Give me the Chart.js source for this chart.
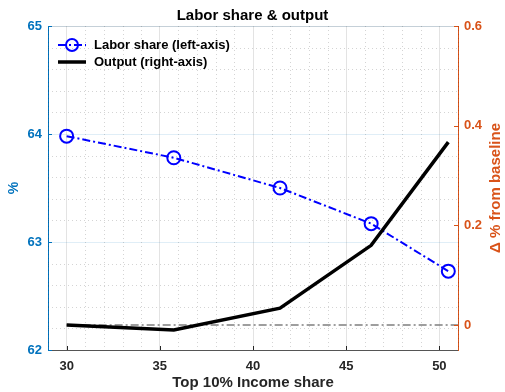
<!DOCTYPE html>
<html>
<head>
<meta charset="utf-8">
<script src="https://cdn.jsdelivr.net/npm/chart.js@4"></script>
<style>
  html, body { margin: 0; background: #fff; }
  #wrap { width: 505px; height: 392px; }
</style>
</head>
<body>
<div id="wrap"><canvas id="grafico"></canvas></div>
<script>
// data
const incomeShare = [30, 35.75, 41.45, 46.34, 50.48];
const laborShare = [63.98, 63.78, 63.5, 63.17, 62.73];
const outputDev = [0.0, -0.01, 0.034, 0.16, 0.367];
const baselineX = [30, 51];
const baselineY = [0, 0];
const xTicks = [30, 35, 40, 45, 50];
const leftTicks = [62, 63, 64, 65];
const rightTicks = [0, 0.2, 0.4, 0.6];

const BLUE = '#0072BD';
const ORANGE = '#D95319';
const DARK = '#262626';
const FONT = '"Liberation Sans", Arial, Helvetica, sans-serif';

// dotted minor grid, inward ticks, box, right title and legend (MATLAB look)
const matlabLook = {
  id: 'matlabLook',
  beforeDatasetsDraw(chart) {
    const { ctx, chartArea: a, scales } = chart;
    const x = scales.x, y = scales.y;
    ctx.save();
    ctx.strokeStyle = 'rgba(38,38,38,0.2)';
    ctx.lineWidth = 1;
    ctx.setLineDash([1, 3]);
    for (let v = 29; v <= 51; v++) {
      if (v % 5 === 0) continue;
      const px = Math.round(x.getPixelForValue(v)) + 0.5;
      ctx.beginPath(); ctx.moveTo(px, a.top); ctx.lineTo(px, a.bottom); ctx.stroke();
    }
    for (let i = 1; i < 15; i++) {
      if (i % 5 === 0) continue;
      const py = Math.round(y.getPixelForValue(62 + i * 0.2)) + 0.5;
      ctx.beginPath(); ctx.moveTo(a.left, py); ctx.lineTo(a.right, py); ctx.stroke();
    }
    ctx.restore();
  },
  afterDraw(chart) {
    const { ctx, chartArea: a, scales } = chart;
    ctx.save();
    // top box line
    ctx.strokeStyle = 'rgba(38,38,38,0.15)';
    ctx.lineWidth = 1;
    ctx.beginPath(); ctx.moveTo(a.left, a.top + 0.5); ctx.lineTo(a.right, a.top + 0.5); ctx.stroke();
    // inward ticks
    ctx.strokeStyle = DARK;
    xTicks.forEach(v => {
      const px = Math.round(scales.x.getPixelForValue(v)) + 0.5;
      ctx.beginPath(); ctx.moveTo(px, a.bottom); ctx.lineTo(px, a.bottom - 4); ctx.stroke();
    });
    ctx.strokeStyle = BLUE;
    leftTicks.forEach(v => {
      const py = Math.round(scales.y.getPixelForValue(v)) + 0.5;
      ctx.beginPath(); ctx.moveTo(a.left, py); ctx.lineTo(a.left + 4, py); ctx.stroke();
    });
    ctx.strokeStyle = ORANGE;
    rightTicks.forEach(v => {
      const py = Math.round(scales.y1.getPixelForValue(v)) + 0.5;
      ctx.beginPath(); ctx.moveTo(a.right, py); ctx.lineTo(a.right - 4, py); ctx.stroke();
    });

    // right axis title, reading bottom to top
    ctx.save();
    ctx.translate(496, (a.top + a.bottom) / 2);
    ctx.rotate(-Math.PI / 2);
    ctx.fillStyle = ORANGE;
    ctx.font = 'bold 15px ' + FONT;
    ctx.textAlign = 'center';
    ctx.textBaseline = 'middle';
    ctx.fillText('Δ % from baseline', 0, 0);
    ctx.restore();

    // legend
    const lx = a.left + 10, ly1 = a.top + 19, ly2 = a.top + 36;
    ctx.strokeStyle = '#0000ff';
    ctx.lineWidth = 2;
    ctx.setLineDash([8, 3, 2, 3]);
    ctx.beginPath(); ctx.moveTo(lx, ly1); ctx.lineTo(lx + 28, ly1); ctx.stroke();
    ctx.setLineDash([]);
    ctx.beginPath(); ctx.arc(lx + 14, ly1, 6, 0, Math.PI * 2); ctx.stroke();
    ctx.strokeStyle = '#000';
    ctx.lineWidth = 3.5;
    ctx.beginPath(); ctx.moveTo(lx, ly2); ctx.lineTo(lx + 28, ly2); ctx.stroke();
    ctx.fillStyle = '#000';
    ctx.font = 'bold 13px ' + FONT;
    ctx.textAlign = 'left';
    ctx.textBaseline = 'middle';
    ctx.fillText('Labor share (left-axis)', lx + 36, ly1);
    ctx.fillText('Output (right-axis)', lx + 36, ly2);
    ctx.restore();
  }
};

const ctx = document.getElementById('grafico').getContext('2d');

new Chart(ctx, {
  type: 'line',
  data: {
    datasets: [
      {
        label: 'Output (right-axis)',
        data: incomeShare.map((v, i) => ({ x: v, y: outputDev[i] })),
        yAxisID: 'y1',
        borderColor: '#000',
        borderWidth: 3.5,
        pointRadius: 0,
        tension: 0
      },
      {
        label: 'Labor share (left-axis)',
        data: incomeShare.map((v, i) => ({ x: v, y: laborShare[i] })),
        yAxisID: 'y',
        borderColor: '#0000ff',
        borderWidth: 2,
        borderDash: [8, 3, 2, 3],
        pointRadius: 6.5,
        pointBorderWidth: 2,
        pointBorderColor: '#0000ff',
        pointBackgroundColor: 'rgba(0,0,0,0)',
        tension: 0
      },
      {
        label: 'baseline',
        data: baselineX.map((v, i) => ({ x: v, y: baselineY[i] })),
        yAxisID: 'y1',
        borderColor: '#7f7f7f',
        borderWidth: 1.5,
        borderDash: [8, 3, 2, 3],
        pointRadius: 0
      }
    ]
  },
  options: {
    responsive: true,
    maintainAspectRatio: false,
    animation: false,
    events: [],
    layout: { padding: 0 },
    plugins: {
      legend: { display: false },
      tooltip: { enabled: false },
      title: {
        display: true,
        text: 'Labor share & output',
        color: '#000',
        font: { family: FONT, size: 15, weight: 'bold' },
        padding: { top: 7, bottom: 1 }
      }
    },
    scales: {
      x: {
        type: 'linear',
        min: 29,
        max: 51,
        afterBuildTicks: s => { s.ticks = xTicks.map(v => ({ value: v })); },
        afterFit: s => { s.height = 42; },
        ticks: { color: DARK, font: { family: FONT, size: 13, weight: 'bold' }, padding: 9 },
        grid: { color: 'rgba(38,38,38,0.13)', drawTicks: false },
        border: { color: '#555', width: 1 },
        title: {
          display: true,
          text: 'Top 10% Income share',
          color: DARK,
          font: { family: FONT, size: 15, weight: 'bold' },
          padding: { top: 0, bottom: 0 }
        }
      },
      y: {
        position: 'left',
        min: 62,
        max: 65,
        afterBuildTicks: s => { s.ticks = leftTicks.map(v => ({ value: v })); },
        afterFit: s => { s.width = 48; },
        ticks: { color: BLUE, font: { family: FONT, size: 13, weight: 'bold' }, padding: 6 },
        grid: { color: 'rgba(0,114,189,0.12)', drawTicks: false },
        border: { color: BLUE, width: 1 },
        title: {
          display: true,
          text: '%',
          color: BLUE,
          font: { family: FONT, size: 14, weight: 'bold' },
          padding: { top: 6, bottom: 0 }
        }
      },
      y1: {
        position: 'right',
        min: -0.05,
        max: 0.6,
        afterBuildTicks: s => { s.ticks = rightTicks.map(v => ({ value: v })); },
        afterFit: s => { s.width = 47; },
        ticks: { color: ORANGE, font: { family: FONT, size: 13, weight: 'bold' }, padding: 6 },
        grid: { display: false, drawTicks: false },
        border: { color: ORANGE, width: 1 }
      }
    }
  },
  plugins: [matlabLook]
});
</script>
</body>
</html>
